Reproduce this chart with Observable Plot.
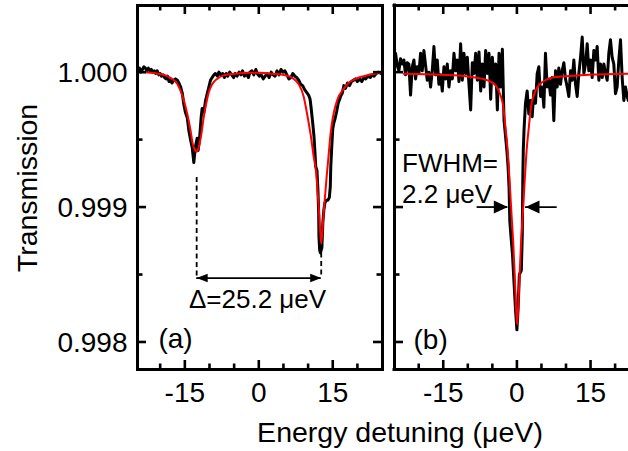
<!DOCTYPE html>
<html><head><meta charset="utf-8">
<script src="https://cdn.jsdelivr.net/npm/d3@7"></script>
<script src="https://cdn.jsdelivr.net/npm/@observablehq/plot@0.6"></script>
<style>
html,body{margin:0;padding:0;background:#fff;overflow:hidden}
#wrap{position:relative;width:628px;height:451px;font-family:"Liberation Sans",Arial,sans-serif;color:#000;background:#fff}
#wrap svg{position:absolute;top:0}
.title{position:absolute;font-size:28.5px;line-height:28px;white-space:nowrap;font-family:"Liberation Sans",Arial,sans-serif}
</style></head><body>
<div id="wrap"></div>
<script>
// ---------- data ----------
const aDataX = [-24.5,-24.2,-23.9,-23.6,-23.3,-23.0,-22.7,-22.4,-22.1,-21.8,-21.5,-21.2,-20.9,-20.6,-20.3,-20.0,-19.7,-19.4,-19.1,-18.8,-18.5,-18.2,-17.9,-17.6,-17.3,-16.9,-16.5,-16.2,-15.85,-15.5,-15.2,-14.87,-14.5,-14.2,-13.85,-13.5,-13.18,-12.84,-12.5,-12.3,-12.03,-11.7,-11.49,-11.15,-10.8,-10.47,-10.13,-9.8,-9.46,-9.1,-8.78,-8.4,-8.1,-7.7,-7.3,-7.0,-6.6,-6.3,-5.9,-5.5,-5.1,-4.8,-4.4,-4.0,-3.6,-3.3,-2.9,-2.5,-2.1,-1.8,-1.4,-1.0,-0.6,-0.3,0.1,0.5,0.9,1.3,1.7,2.1,2.5,2.9,3.3,3.7,4.1,4.5,4.9,5.3,5.7,6.1,6.5,6.9,7.3,7.7,8.1,8.5,8.9,9.3,9.7,10.1,10.4,10.6,10.8,11.0,11.2,11.4,11.55,11.8,12.0,12.15,12.2,12.35,12.5,12.8,13.0,13.2,13.4,13.7,14.0,14.3,14.5,14.6,14.8,15.0,15.2,15.5,15.8,16.1,16.4,16.7,16.9,17.25,17.6,18.0,18.4,18.8,19.2,19.6,20.0,20.5,20.9,21.3,21.7,22.1,22.6,23.0,23.4,23.8,24.3,24.8];
const aDataY = [1.00001,1.00003,1.00000,1.00002,1.00004,1.00003,1.00001,1.00003,1.00001,1.00002,1.00000,1.00001,0.99999,1.00001,0.99998,0.99999,0.99997,0.99998,0.99996,0.99995,0.99997,0.99993,0.99994,0.99992,0.99994,0.99995,0.99994,0.99992,0.99989,0.99984,0.99976,0.99970,0.99966,0.99957,0.99950,0.99944,0.99933,0.99945,0.99951,0.99942,0.99950,0.99966,0.99973,0.99970,0.99979,0.99984,0.99989,0.99994,0.99996,0.99998,0.99999,0.99997,1.00000,0.99998,0.99999,0.99996,0.99999,0.99997,1.00000,0.99998,0.99996,0.99999,0.99997,1.00000,0.99998,1.00001,0.99997,0.99999,0.99996,1.00000,1.00001,0.99998,1.00002,0.99999,0.99997,0.99998,0.99995,0.99997,0.99999,0.99996,1.00000,0.99998,0.99997,1.00001,0.99998,1.00002,1.00000,1.00001,0.99998,0.99995,0.99996,0.99999,0.99997,0.99996,0.99994,0.99991,0.99990,0.99987,0.99985,0.99983,0.99980,0.99974,0.99967,0.99960,0.99952,0.99940,0.99930,0.99927,0.99912,0.99895,0.99878,0.99868,0.99866,0.99870,0.99889,0.99898,0.99903,0.99905,0.99905,0.99907,0.99915,0.99930,0.99945,0.99958,0.99962,0.99966,0.99971,0.99977,0.99980,0.99983,0.99984,0.99990,0.99988,0.99992,0.99990,0.99993,0.99994,0.99995,0.99993,0.99995,0.99993,0.99996,0.99995,0.99997,0.99996,0.99998,0.99997,0.99999,1.00000,0.99999];
const aFitX = [-24.6,-22.5,-20.9,-18.9,-17.6,-16.55,-15.9,-15.2,-14.5,-13.85,-13.4,-12.9,-12.6,-12.2,-11.65,-11.15,-10.65,-10.15,-9.45,-8.45,-7.1,-4.7,-2.0,0.3,2.7,5.4,7.1,8.1,9.1,9.8,10.5,11.15,11.65,12.0,12.35,12.65,12.95,13.3,13.75,14.1,14.55,15.0,15.55,16.2,16.9,18.2,19.6,22.3,25.0];
const aFitY = [1.000003,0.999997,0.999992,0.999976,0.999951,0.999914,0.999864,0.99979,0.99969,0.99957,0.99947,0.99942,0.99941,0.99944,0.99954,0.99967,0.99977,0.99985,0.99991,0.99995,0.999976,0.999988,0.999995,0.999995,0.999988,0.999976,0.99995,0.99991,0.99982,0.99969,0.99954,0.99937,0.99925,0.99908,0.99889,0.99873,0.99885,0.99902,0.99922,0.99936,0.99954,0.99966,0.99975,0.99982,0.99986,0.99992,0.99995,0.99998,0.999995];
const bDataX = [-24.9,-24.72,-24.38,-24.04,-23.7,-23.36,-23.02,-22.68,-22.34,-22.0,-21.66,-21.32,-20.98,-20.64,-20.3,-19.96,-19.62,-19.28,-18.94,-18.6,-18.26,-17.92,-17.58,-17.24,-16.9,-16.56,-16.22,-15.88,-15.54,-15.2,-14.86,-14.52,-14.18,-13.84,-13.5,-13.16,-12.82,-12.48,-12.14,-11.8,-11.46,-11.12,-10.78,-10.44,-10.1,-9.76,-9.42,-9.08,-8.74,-8.4,-8.06,-7.72,-7.38,-7.04,-6.7,-6.36,-6.02,-5.68,-5.34,-5.0,-4.66,-4.32,-3.98,-3.64,-3.3,-2.96,-2.62,-2.3,-2.0,-1.8,-1.6,-1.45,-1.2,-0.9,-0.6,-0.3,0.0,0.25,0.5,0.9,1.1,1.2,1.3,1.45,1.75,2.09,2.43,2.77,3.11,3.45,3.79,4.13,4.47,4.81,5.15,5.49,5.82,6.16,6.5,6.84,7.18,7.52,7.86,8.2,8.54,8.88,9.22,9.56,9.9,10.24,10.58,10.92,11.26,11.6,11.94,12.28,12.62,12.96,13.3,13.64,13.98,14.32,14.65,14.99,15.33,15.67,16.01,16.35,16.69,17.03,17.37,17.71,18.05,18.39,18.72,19.06,19.4,19.74,20.08,20.42,20.76,21.1,21.44,21.78,22.12,22.46,22.7];
const bDataY = [1.00009,1.00014,1.00005,1.00001,1.00010,1.00006,1.00009,0.99998,1.00007,1.00006,0.99983,1.00004,1.00009,0.99995,1.00004,0.99999,1.00014,1.00001,1.00016,1.00005,0.99994,1.00000,0.99989,1.00001,1.00019,0.99998,1.00009,0.99991,0.99998,0.99986,1.00004,0.99995,1.00006,0.99989,1.00001,0.99995,1.00014,1.00001,1.00009,0.99993,1.00021,0.99994,1.00014,0.99999,1.00011,0.99991,0.99972,1.00007,0.99999,1.00014,0.99994,1.00015,0.99986,1.00006,0.99989,1.00016,0.99999,1.00014,0.99980,1.00011,0.99993,1.00006,0.99972,1.00014,0.99989,1.00017,0.99964,0.99952,0.99940,0.99930,0.99915,0.99890,0.99878,0.99865,0.99845,0.99825,0.99809,0.99825,0.99850,0.99853,0.99880,0.99920,0.99942,0.99957,0.99977,0.99986,0.99969,0.99979,0.99967,0.99986,0.99977,0.99999,1.00004,0.99982,0.99989,0.99974,1.00014,0.99989,0.99994,0.99983,0.99996,0.99964,1.00001,0.99989,1.00003,0.99991,1.00001,1.00007,0.99995,0.99989,0.99982,1.00001,0.99994,1.00009,0.99991,0.99982,0.99999,1.00011,1.00026,0.99999,1.00006,1.00021,1.00001,1.00009,0.99996,1.00016,1.00009,1.00019,0.99994,1.00006,0.99996,1.00006,0.99999,0.99994,1.00014,1.00024,1.00011,1.00006,0.99984,0.99989,1.00009,1.00024,0.99996,0.99979,0.99989,0.99982,0.99979];
const bFitX = [-23.05,-15.6,-10,-7,-5.4,-4.3,-3.35,-2.8,-2.3,-1.9,-1.45,-1.1,-0.75,-0.45,-0.2,0.05,0.3,0.55,0.85,1.2,1.55,2.0,2.4,2.9,3.45,4.4,5.8,7.2,9.9,14.6,22.73];
const bFitY = [0.999988,0.99998,0.999968,0.99995,0.99993,0.99990,0.99983,0.99975,0.99958,0.99943,0.99917,0.99895,0.99874,0.99850,0.99828,0.99813,0.99828,0.99850,0.99874,0.99895,0.99917,0.99943,0.99958,0.99975,0.99983,0.99990,0.99994,0.99996,0.99997,0.99998,0.999988];

const xMajor = [-15, 0, 15];
const xMinor = [-20, -10, -5, 5, 10, 20];
const yMajor = [0.998, 0.999, 1.000];
const yMinor = [0.9985, 0.9995];
const panelLabels = ["(a)", "(b)"];
const xTitle = "Energy detuning (μeV)";
const yTitle = "Transmission";
const deltaLabel = "Δ=25.2 μeV";
const fwhmLabels = ["FWHM=", "2.2 μeV"];
const peakX = [-12.6, 12.66];
const peakTop = [0.99922, 0.99866];
const deltaY = 0.998474;
const fwhmY = 0.999;
const fwhmTips = [-1.85, 1.75];
const fwhmTails = [-8.1, 8.2];

// ---------- helpers ----------
const zip = (xs, ys) => xs.map((x, i) => ({x, y: ys[i]}));
const yDomain = [0.997796, 1.000494];
const aXDomain = [-24.6, 25.09];
const bXDomain = [-24.93, 22.73];
const FONT = '"Liberation Sans", Arial, sans-serif';
const H = 364;
const headRight = (L, h) => ({draw(c) { c.moveTo(0, 0); c.lineTo(-L, -h); c.lineTo(-L, h); c.closePath(); }});
const headLeft = (L, h) => ({draw(c) { c.moveTo(0, 0); c.lineTo(L, -h); c.lineTo(L, h); c.closePath(); }});
const sw = 2.6;

function tickMarks(W, sides) {
  const m = [];
  const big = 9, small = 5.5;
  m.push(Plot.tickX(xMajor, {x: d => d, insetTop: H - big, strokeWidth: sw}));
  m.push(Plot.tickX(xMinor, {x: d => d, insetTop: H - small, strokeWidth: sw}));
  m.push(Plot.tickX(xMajor, {x: d => d, insetBottom: H - big, strokeWidth: sw}));
  m.push(Plot.tickX(xMinor, {x: d => d, insetBottom: H - small, strokeWidth: sw}));
  if (sides.includes("left")) {
    m.push(Plot.tickY(yMajor, {y: d => d, insetRight: W - big, strokeWidth: sw}));
    m.push(Plot.tickY(yMinor, {y: d => d, insetRight: W - small, strokeWidth: sw}));
  }
  if (sides.includes("right")) {
    m.push(Plot.tickY(yMajor, {y: d => d, insetLeft: W - big, strokeWidth: sw}));
    m.push(Plot.tickY(yMinor, {y: d => d, insetLeft: W - small, strokeWidth: sw}));
  }
  return m;
}

const styleObj = {fontFamily: FONT, fontSize: "28px", background: "transparent", overflow: "visible", maxWidth: "none", color: "black"};

// ---------- panel (a) ----------
const plotA = Plot.plot({
  width: 390, height: 451,
  marginLeft: 137, marginRight: 8, marginTop: 5, marginBottom: 82,
  style: styleObj,
  x: {domain: aXDomain},
  y: {domain: yDomain},
  marks: [
    Plot.line(zip(aDataX, aDataY), {x: "x", y: "y", stroke: "black", strokeWidth: 3, strokeLinejoin: "round"}),
    Plot.line(zip(aFitX, aFitY), {x: "x", y: "y", stroke: "#ff0000", strokeWidth: 2, curve: "monotone-x"}),
    Plot.ruleX(peakX.map((x, i) => ({x, y1: peakTop[i], y2: deltaY})), {x: "x", y1: "y1", y2: "y2", stroke: "black", strokeWidth: 1.8, strokeDasharray: "5,3.5"}),
    Plot.ruleY([{y: deltaY, x1: peakX[0], x2: peakX[1]}], {y: "y", x1: "x1", x2: "x2", stroke: "black", strokeWidth: 1.8}),
    Plot.dot([{x: peakX[0], y: deltaY}], {x: "x", y: "y", symbol: headLeft(11, 4.2), fill: "black", stroke: "none", r: 5}),
    Plot.dot([{x: peakX[1], y: deltaY}], {x: "x", y: "y", symbol: headRight(11, 4.2), fill: "black", stroke: "none", r: 5}),
    Plot.text([{x: -0.26, y: 0.998316, t: deltaLabel}], {x: "x", y: "y", text: "t", fontSize: 26, textAnchor: "middle", fill: "black"}),
    Plot.text([{x: -20.35, y: 0.998024, t: panelLabels[0]}], {x: "x", y: "y", text: "t", fontSize: 28, textAnchor: "start", fill: "black"}),
    Plot.frame({stroke: "black", strokeWidth: 3}),
    ...tickMarks(245, ["left", "right"]),
    Plot.axisX(xMajor, {anchor: "bottom", tickSize: 0, tickPadding: 13, tickFormat: d => String(d), label: null, fontSize: 28}),
    Plot.axisY(yMajor, {anchor: "left", tickSize: 0, tickPadding: 10, tickFormat: d3.format(".3f"), label: null, fontSize: 28, dy: 1})
  ]
});

// ---------- panel (b) ----------
const plotB = Plot.plot({
  width: 245, height: 451,
  marginLeft: 11, marginRight: 0, marginTop: 5, marginBottom: 82,
  style: styleObj,
  x: {domain: bXDomain},
  y: {domain: yDomain, axis: null},
  marks: [
    Plot.line(zip(bDataX, bDataY), {x: "x", y: "y", stroke: "black", strokeWidth: 3, strokeLinejoin: "round"}),
    Plot.line(zip(bFitX, bFitY), {x: "x", y: "y", stroke: "#ff0000", strokeWidth: 2, curve: "monotone-x"}),
    Plot.ruleY([{y: fwhmY, x1: fwhmTails[0], x2: fwhmTips[0]}, {y: fwhmY, x1: fwhmTips[1], x2: fwhmTails[1]}], {y: "y", x1: "x1", x2: "x2", stroke: "black", strokeWidth: 1.8}),
    Plot.dot([{x: fwhmTips[0], y: fwhmY}], {x: "x", y: "y", symbol: headRight(14, 6.5), fill: "black", stroke: "none", r: 6}),
    Plot.dot([{x: fwhmTips[1], y: fwhmY}], {x: "x", y: "y", symbol: headLeft(14, 6.5), fill: "black", stroke: "none", r: 6}),
    Plot.text([{x: -23.4, y: 0.999321, t: fwhmLabels[0]}, {x: -23.4, y: 0.999089, t: fwhmLabels[1]}], {x: "x", y: "y", text: "t", fontSize: 26, textAnchor: "start", fill: "black"}),
    Plot.text([{x: -21.06, y: 0.998013, t: panelLabels[1]}], {x: "x", y: "y", text: "t", fontSize: 28, textAnchor: "start", fill: "black"}),
    Plot.ruleX([bXDomain[0]], {x: d => d, stroke: "black", strokeWidth: 3, strokeLinecap: "square"}),
    Plot.ruleY(yDomain, {y: d => d, stroke: "black", strokeWidth: 3, strokeLinecap: "square"}),
    ...tickMarks(234, ["left"]),
    Plot.axisX(xMajor, {anchor: "bottom", tickSize: 0, tickPadding: 13, tickFormat: d => String(d), label: null, fontSize: 28})
  ]
});

const wrap = document.getElementById("wrap");
plotA.style.left = "0px";
plotB.style.left = "383px";
wrap.appendChild(plotA);
wrap.appendChild(plotB);

const xt = document.createElement("div");
xt.className = "title";
xt.textContent = xTitle;
xt.style.left = "400px";
xt.style.top = "418px";
xt.style.transform = "translateX(-50%)";
wrap.appendChild(xt);

const yt = document.createElement("div");
yt.className = "title";
yt.textContent = yTitle;
yt.style.left = "27px";
yt.style.top = "188px";
yt.style.transform = "translate(-50%,-50%) rotate(-90deg)";
wrap.appendChild(yt);
</script></body></html>
